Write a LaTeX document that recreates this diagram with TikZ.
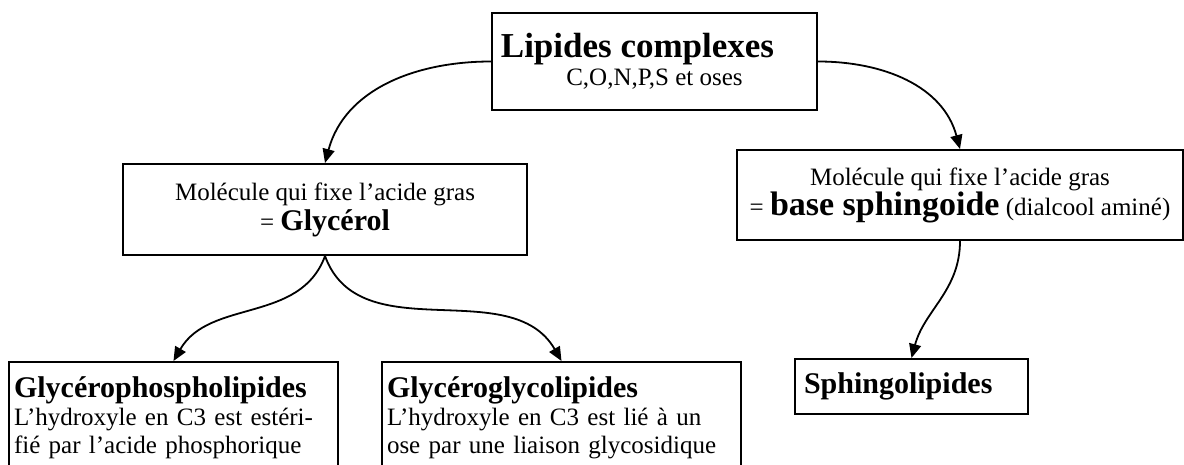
\documentclass[tikz,border=0pt]{standalone}
\usepackage{fontspec}
\setmainfont{Liberation Serif}
\usetikzlibrary{positioning,arrows.meta}
\newcommand{\titlefont}{\fontsize{17.5}{20}\selectfont\bfseries}
\newcommand{\headfont}{\fontsize{15}{17}\selectfont\bfseries}
\newcommand{\basefont}{\fontsize{17}{19}\selectfont\bfseries}
\tikzset{
  >={Triangle[length=7pt,width=6pt]},
  lipbox/.style={draw=black,line width=1pt,inner sep=0pt,align=center,
    font=\fontsize{12.5}{15}\selectfont},
  lipboxl/.style={draw=black,line width=1pt,anchor=north west,inner xsep=2.5pt,
    inner ysep=7.5pt,align=left,font=\fontsize{12.5}{14}\selectfont},
  flow/.style={->,line width=0.9pt},
}
\begin{document}
\begin{tikzpicture}[x=0.5pt,y=0.5pt]
  \useasboundingbox (0,0) rectangle (1184,-465);
  \clip (0,0) rectangle (1184,-465);
  \node[lipbox,minimum width=162.5pt,minimum height=48.5pt] (lip) at (654.5,-61.5)
    {{\titlefont Lipides complexes}\hspace*{17pt}\\[-1pt] C,O,N,P,S et oses};
  \node[lipbox,minimum width=202pt,minimum height=45.5pt] (gly) at (325,-209.5)
    {Molécule qui fixe l’acide gras\\[0pt] = {\headfont Glycérol}};
  \node[lipbox,minimum width=223pt,minimum height=45pt] (sph) at (960,-195)
    {Molécule qui fixe l’acide gras\\[0pt] = {\basefont base sphingoide} (dialcool aminé)};
  \node[lipboxl,text width=159.5pt] (gpl) at (8,-361)
    {{\headfont Glycérophospholipides}\\
     L’hydroxyle en C3 est estéri-\\
     fié par l’acide phosphorique\rule[-15pt]{0pt}{15pt}};
  \node[lipboxl,text width=174.5pt] (ggl) at (381,-361)
    {{\headfont Glycéroglycolipides}\\
     L’hydroxyle en C3 est lié à un\\
     ose par une liaison glycosidique\rule[-15pt]{0pt}{15pt}};
  \node[lipboxl,inner xsep=4.5pt,inner ysep=0pt,text width=107.5pt,
    minimum height=27.5pt] (sphl) at (794,-358) {{\headfont Sphingolipides}};
  \draw[flow] (lip.west) to[out=180,in=75] (gly.north);
  \draw[flow] (lip.east) to[out=0,in=105] (sph.north);
  \draw[flow] (gly.south) to[out=-110,in=60] (gpl.north);
  \draw[flow] (gly.south) to[out=-70,in=120] (ggl.north);
  \draw[flow] (sph.south) to[out=-90,in=75] (sphl.north);
\end{tikzpicture}
\end{document}
